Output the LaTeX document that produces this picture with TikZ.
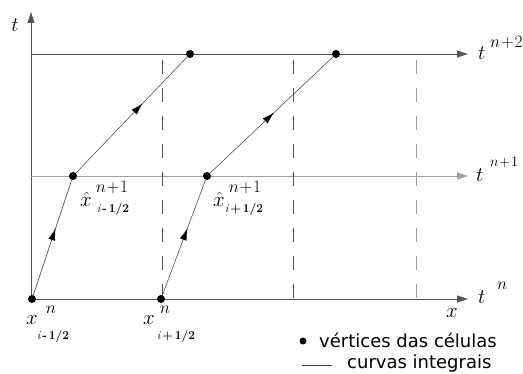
\documentclass[tikz,border=0pt]{standalone}
\usepackage{amsmath}
\usepackage{fontspec}
\newfontfamily\legendfont{DejaVu Sans}
\usetikzlibrary{arrows.meta,decorations.markings}
\definecolor{axisgray}{HTML}{555555}
\definecolor{levelgray}{HTML}{A0A0A0}
\definecolor{curvegray}{HTML}{3A3A3A}

\begin{document}
\begin{tikzpicture}[
  x=1pt,y=-1pt,
  vert/.style={circle,fill=black,inner sep=0pt,minimum size=8pt},
  axisline/.style={draw=axisgray,line width=0.9pt,-{Triangle[length=11pt,width=7pt]}},
  levelline/.style={axisline,draw=levelgray},
  cellline/.style={draw=#1,line width=0.9pt,dash pattern=on 14pt off 14pt},
  integral/.style={draw=curvegray,line width=0.5pt,postaction={decorate},
    decoration={markings,mark=at position #1 with {\arrow[black]{Latex[length=12pt,width=7pt]}}}},
  big/.style={inner sep=0pt,font=\fontsize{21}{23}\selectfont},
  sup/.style={inner sep=0pt,font=\fontsize{16}{18}\selectfont},
  sub/.style={inner sep=0pt,font=\fontsize{12}{13}\selectfont\bfseries},
  legend/.style={inner sep=0pt,anchor=base west,font=\legendfont\fontsize{18}{20}\selectfont}
]
\useasboundingbox (0,0) rectangle (523,374);

% axes and time levels
\coordinate (o) at (31,299);
\coordinate (ttop) at (31,12);
\coordinate (xend) at (468,299);
\coordinate (l1) at (31,176);
\coordinate (l1end) at (468,176);
\coordinate (l2) at (31,54);
\coordinate (l2end) at (468,54);
\draw[axisline] (o) -- (ttop);
\draw[axisline] (o) -- (xend);
\draw[levelline] (l1) -- (l1end);
\draw[axisline] (l2) -- (l2end);

% cell boundaries
\foreach \xx/\col in {162/axisgray,293/axisgray,416/levelgray}
  \draw[cellline=\col] (\xx,60) -- (\xx,299);

% cell vertices
\node[vert] (a0) at (32,299) {};
\node[vert] (b0) at (161,299) {};
\node[vert] (a1) at (73,176) {};
\node[vert] (b1) at (207,176) {};
\node[vert] (a2) at (190,54) {};
\node[vert] (b2) at (336,54) {};

% integral curves
\draw[integral=0.58] (a0) -- (a1);
\draw[integral=0.6] (a1) -- (a2);
\draw[integral=0.58] (b0) -- (b1);
\draw[integral=0.52] (b1) -- (b2);

% axis labels
\node[big,anchor=base] (tlbl) at (15,32) {$t$};
\node[big,anchor=base] (xlbl) at (452,318) {$x$};
\node[big,anchor=base west] (tn) at (478,304) {$t$};
\node[sup,anchor=base west] (tnsup) at (497,290) {$n$};
\node[big,anchor=base west] (tn1) at (476,182) {$t$};
\node[sup,anchor=base west,font=\fontsize{15}{17}\selectfont] (tn1sup) at (490,167) {$n\!+\!1$};
\node[big,anchor=base west] (tn2) at (478,60) {$t$};
\node[sup,anchor=base west] (tn2sup) at (490,48) {$n\!+\!2$};

% vertex labels
\node[big] (xa) at (32,320) {$x$};
\node[sup] (xasup) at (51,310) {$n$};
\node[sub] (xasub) at (53,337) {$\mathit{i}$\,-\,1/2};
\node[big] (xb) at (149,320) {$x$};
\node[sup] (xbsup) at (165,310) {$n$};
\node[sub] (xbsub) at (176,337) {$\mathit{i}$\,+\,1/2};
\node[big] (ha) at (86,199) {$\hat{x}$};
\node[sup] (hasup) at (112,187) {$n\!+\!1$};
\node[sub] (hasub) at (113,210) {$\mathit{i}$\,-\,1/2};
\node[big] (hb) at (219,199) {$\hat{x}$};
\node[sup] (hbsup) at (245,187) {$n\!+\!1$};
\node[sub] (hbsub) at (244,210) {$\mathit{i}$\,+\,1/2};

% legend
\node[vert,minimum size=7pt] (lgdot) at (303,341) {};
\node[legend] (lgvert) at (319,348) {vértices das células};
\coordinate (lgl) at (302,365);
\coordinate (lgr) at (332,365);
\draw[curvegray,line width=0.5pt] (lgl) -- (lgr);
\node[legend] (lgcurve) at (347,369) {curvas integrais};
\end{tikzpicture}
\end{document}
